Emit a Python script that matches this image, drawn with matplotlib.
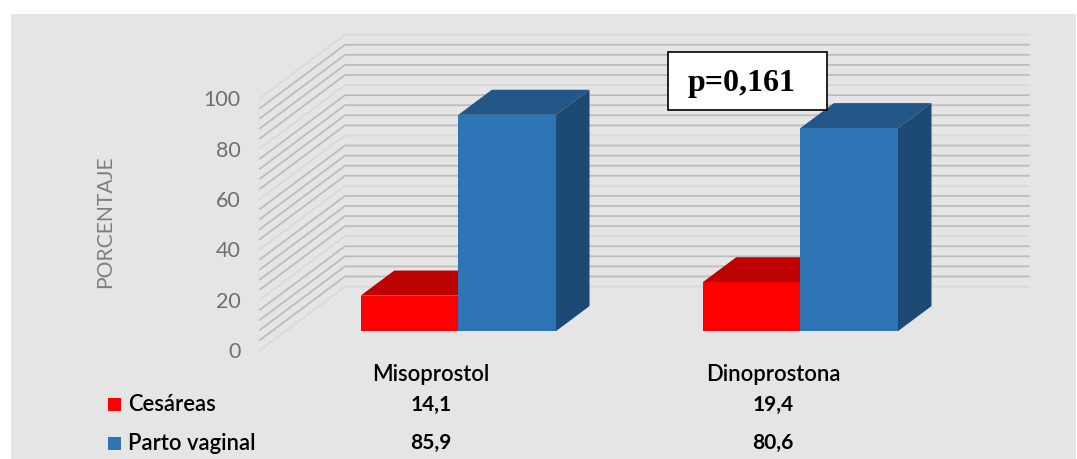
import matplotlib
matplotlib.use("Agg")
import matplotlib.pyplot as plt
from matplotlib.patches import Polygon, Rectangle
from matplotlib.transforms import blended_transform_factory

categories = ["Misoprostol", "Dinoprostona"]
series_names = ["Cesáreas", "Parto vaginal"]
cesareas = [14.1, 19.4]
parto_vaginal = [85.9, 80.6]
y_ticks = [0, 20, 40, 60, 80, 100]
p_label = "p=0,161"

W, H = 1077, 459
plt.rcParams["font.family"] = ["Lato", "DejaVu Sans"]

# oblique projection: one unit of depth shifts a point this far, in data units
PX_PER_CAT = 342.0
PX_PER_VAL = 2.512
DX = 85.0 / PX_PER_CAT
DY = 63.3 / PX_PER_VAL
N = len(categories)
GAP = 0.2205
BAR_W = 0.2855
D0, D1 = 0.297, 0.692

fig = plt.figure(figsize=(W / 100, H / 100), dpi=100, facecolor="white")
fig.add_artist(Rectangle((11 / W, 0), (1076 - 11) / W, (459 - 14) / H,
                         transform=fig.transFigure, facecolor="#e5e5e5", edgecolor="none", zorder=-5))

ax = fig.add_axes([260 / W, 1 - 350 / H, (1029 - 260) / W, (350 - 34.7) / H])
ax.set_xlim(0, N + DX)
ax.set_ylim(0, 100 + DY)
ax.patch.set_visible(False)
for s in ax.spines.values():
    s.set_visible(False)


def proj(x, v, d):
    return (x + d * DX, v + d * DY)


# wall gridlines
for i, v in enumerate(range(0, 101, 4)):
    col = "#d9d9d9" if i % 5 == 0 else "#bdbdbd"
    pts = [proj(0, v, 0), proj(0, v, 1), proj(N, v, 1)]
    ax.plot(*zip(*pts), color=col, lw=1.3, solid_joinstyle="miter", zorder=1, clip_on=False)


def bar3d(x0, w, v, front, top, side, z):
    x1 = x0 + w
    ax.add_patch(Polygon([proj(x0, v, D0), proj(x1, v, D0), proj(x1, v, D1), proj(x0, v, D1)],
                         facecolor=top, edgecolor="none", zorder=z))
    ax.add_patch(Polygon([proj(x1, 0, D0), proj(x1, v, D0), proj(x1, v, D1), proj(x1, 0, D1)],
                         facecolor=side, edgecolor="none", zorder=z))
    ax.add_patch(Polygon([proj(x0, 0, D0), proj(x1, 0, D0), proj(x1, v, D0), proj(x0, v, D0)],
                         facecolor=front, edgecolor="none", zorder=z + 0.1))


for i in range(N):
    bar3d(i + GAP, BAR_W, cesareas[i], "#ff0000", "#bd0000", "#a00000", 2 + i)
    bar3d(i + GAP + BAR_W, BAR_W, parto_vaginal[i], "#2e75b6", "#215687", "#1c4a75", 2.5 + i)

# axes text
ax.set_yticks(y_ticks)
ax.set_yticklabels([str(t) for t in y_ticks], fontsize=15.5, color="#6f6f6f")
ax.tick_params(axis="y", length=0, pad=14)
ax.set_xticks([i + 0.5 for i in range(N)])
ax.set_xticklabels(categories, fontsize=15.8, color="black", fontweight="semibold")
ax.tick_params(axis="x", length=0, pad=10)
ax.set_ylabel("PORCENTAJE", fontsize=15.2, color="#7f7f7f")
ax.yaxis.set_label_coords((105 - 260) / (1029 - 260), (350 - 222) / (350 - 34.7))
ax.yaxis.label.set_verticalalignment("center")

# data table under the chart
tr = blended_transform_factory(ax.transData, fig.transFigure)
rows = [(series_names[0], cesareas, "#ff0000", 404.5), (series_names[1], parto_vaginal, "#2e75b6", 443)]
for name, vals, col, y in rows:
    fy = 1 - y / H
    fig.add_artist(Rectangle((108 / W, fy - 6.5 / H), 13 / W, 13 / H, transform=fig.transFigure,
                             facecolor=col, edgecolor="none"))
    fig.text(128 / W, fy, name, fontsize=15.8, color="black", va="center", ha="left", fontweight="semibold")
    for i, v in enumerate(vals):
        ax.text(i + 0.5, fy, f"{v:.1f}".replace(".", ","), transform=tr, fontsize=15, fontweight="bold",
                color="black", ha="center", va="center", clip_on=False)

# annotation box
fig.add_artist(Rectangle((667.5 / W, 1 - 110 / H), 159.5 / W, 58 / H, transform=fig.transFigure,
                         facecolor="white", edgecolor="black", lw=1.2, zorder=10))
fig.text(741.5 / W, 1 - 84 / H, p_label, family="Liberation Serif", fontweight="bold", fontsize=23,
         ha="center", va="center", color="black", zorder=11)

fig.savefig("out.png", dpi=100)
